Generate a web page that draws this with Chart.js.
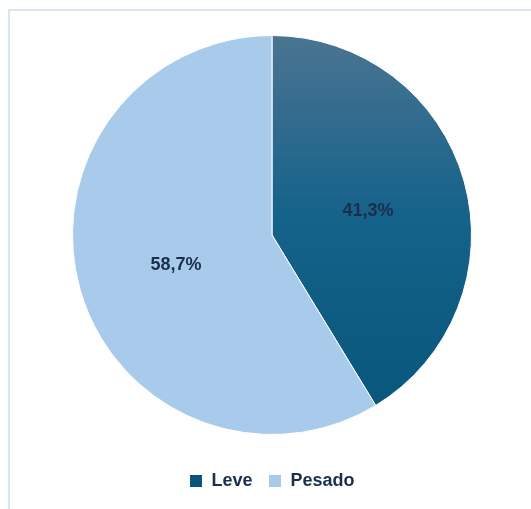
<!DOCTYPE html>
<html lang="pt">
<head>
    <meta charset="UTF-8">
    <title>Leve / Pesado</title>
    <style>
        body {
            margin: 0;
            padding: 0;
            background: #fff;
            overflow: hidden;
        }
        .frame {
            position: absolute;
            left: 8px;
            top: 9px;
            width: 600px;
            height: 600px;
            border: 2px solid #d7e5f4;
        }
        .chart-box {
            position: absolute;
            left: 0;
            top: 0;
            width: 531px;
            height: 509px;
        }
    </style>
    <script src="https://cdn.jsdelivr.net/npm/chart.js"></script>
</head>
<body>
    <div class="frame"></div>
    <div class="chart-box">
        <canvas id="pie"></canvas>
    </div>

    <script>
        // dados
        const categories = ['Leve', 'Pesado'];
        const shares = [41.3, 58.7];
        const pctLabels = ['41,3%', '58,7%'];

        const lightBlue = '#a8caeb';

        // cor de cada fatia; a fatia "Leve" tem gradiente vertical
        function sliceFill(context) {
            if (context.dataIndex === 1) return lightBlue;
            const chart = context.chart;
            const area = chart.chartArea;
            if (!area) return '#15628a';
            const g = chart.ctx.createLinearGradient(0, area.top, 0, area.bottom);
            g.addColorStop(0, '#4a7492');
            g.addColorStop(0.45, '#15628a');
            g.addColorStop(1, '#07557a');
            return g;
        }

        // rótulos de percentagem no meio de cada fatia
        const sliceLabels = {
            id: 'sliceLabels',
            afterDatasetsDraw(chart) {
                const ctx = chart.ctx;
                const meta = chart.getDatasetMeta(0);
                ctx.save();
                ctx.font = 'bold 18px "Liberation Sans", Arial, sans-serif';
                ctx.fillStyle = '#1b2f4c';
                ctx.textAlign = 'center';
                ctx.textBaseline = 'middle';
                meta.data.forEach((arc, i) => {
                    const p = arc.tooltipPosition();
                    ctx.fillText(pctLabels[i], p.x, p.y + 3);
                });
                ctx.restore();
            }
        };

        new Chart(document.getElementById('pie'), {
            type: 'pie',
            data: {
                labels: categories,
                datasets: [{
                    data: shares,
                    backgroundColor: sliceFill,
                    borderColor: '#ffffff',
                    borderWidth: 1
                }]
            },
            options: {
                responsive: true,
                maintainAspectRatio: false,
                animation: false,
                layout: {
                    padding: { left: 72, right: 59, top: 35, bottom: 9 }
                },
                plugins: {
                    legend: {
                        position: 'bottom',
                        title: {
                            // título vazio só para afastar a legenda do gráfico
                            display: true,
                            text: ' ',
                            font: { size: 10, lineHeight: 1 },
                            padding: { top: 11, bottom: 0 }
                        },
                        labels: {
                            boxWidth: 13,
                            boxHeight: 13,
                            padding: 16,
                            color: '#1b2f4c',
                            font: { family: '"Liberation Sans", Arial, sans-serif', size: 18, weight: 'bold' }
                        }
                    },
                    tooltip: { enabled: false }
                }
            },
            plugins: [sliceLabels]
        });
    </script>
</body>
</html>
